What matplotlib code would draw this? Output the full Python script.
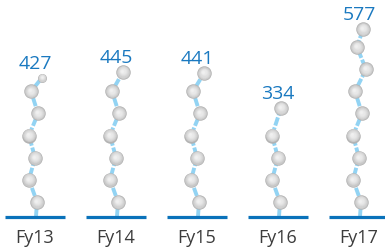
import numpy as np
import matplotlib
matplotlib.use("Agg")
import matplotlib.pyplot as plt

# data
years = ["Fy13", "Fy14", "Fy15", "Fy16", "Fy17"]
values = [427, 445, 441, 334, 577]

# look
W, H, DPI = 385, 252, 100
X0_PX, STEP_PX = 35, 81          # first column centre and column spacing (px)
BASE_PX = 35.5                   # baseline height from bottom (px)
K = 0.325                        # px per value unit
BEAD_D = 14.5                    # bead diameter (px)
FIRST_BEAD, BEAD_GAP = 45, 68    # bead spacing along the string (value units)
WIGGLE = [2, -6, 0, -6, 3, -4, 7, -2, 4]   # sideways swing of beads (px)

line_blue = "#92d3f3"
base_blue = "#0a72ba"
label_blue = "#1a79c0"

fig = plt.figure(figsize=(W / DPI, H / DPI), dpi=DPI)
ax = fig.add_axes([0, 0, 1, 1])
ax.set_xlim(-X0_PX / STEP_PX, (W - X0_PX) / STEP_PX)
ax.set_ylim(-BASE_PX / K, (H - BASE_PX) / K)
ax.axis("off")

px_x = 1.0 / STEP_PX   # data units per pixel
px_y = 1.0 / K


def bead(x, y, d):
    # shaded grey ball made of stacked discs
    n = 9
    c0 = np.array([0.70, 0.70, 0.70])
    c1 = np.array([0.94, 0.94, 0.94])
    for k in range(n):
        t = k / (n - 1)
        dd = d * (1 - 0.8 * t)
        col = c0 + (c1 - c0) * t ** 0.5
        ax.scatter(x - 0.04 * d * t * px_x, y + 0.08 * d * t * px_y,
                   s=(dd * 72 / DPI) ** 2, color=col, lw=0, zorder=3 + k)


for i, (yr, v) in enumerate(zip(years, values)):
    ys = [h for h in np.arange(FIRST_BEAD, 2000, BEAD_GAP) if h < v - 40]
    xs = [i + WIGGLE[j] * px_x for j in range(len(ys))]
    top_x = i + WIGGLE[len(ys)] * px_x
    small = (v - ys[-1]) < 50

    # string
    ax.plot([i + 1 * px_x] + xs + [top_x], [0] + ys + [v],
            color=line_blue, lw=2.8, ls=(0, (2.2, 0.5)),
            solid_capstyle="butt", zorder=1)
    for x, y in zip(xs, ys):
        bead(x, y, BEAD_D)
    bead(top_x, v, BEAD_D * (0.62 if small else 1.0))

    # baseline
    ax.hlines(0, i - 0.37, i + 0.37, color=base_blue, lw=2.3, zorder=2)

    ax.text(i, -21.5 * px_y, yr, ha="center", va="center",
            fontsize=13, color="#3c3c3c", family="Open Sans")
    ax.annotate(str(v), (i, v), xytext=(0, 6.5), textcoords="offset points",
                ha="center", va="baseline", fontsize=14,
                color=label_blue, family="Open Sans")

fig.savefig("out.png", dpi=DPI)
